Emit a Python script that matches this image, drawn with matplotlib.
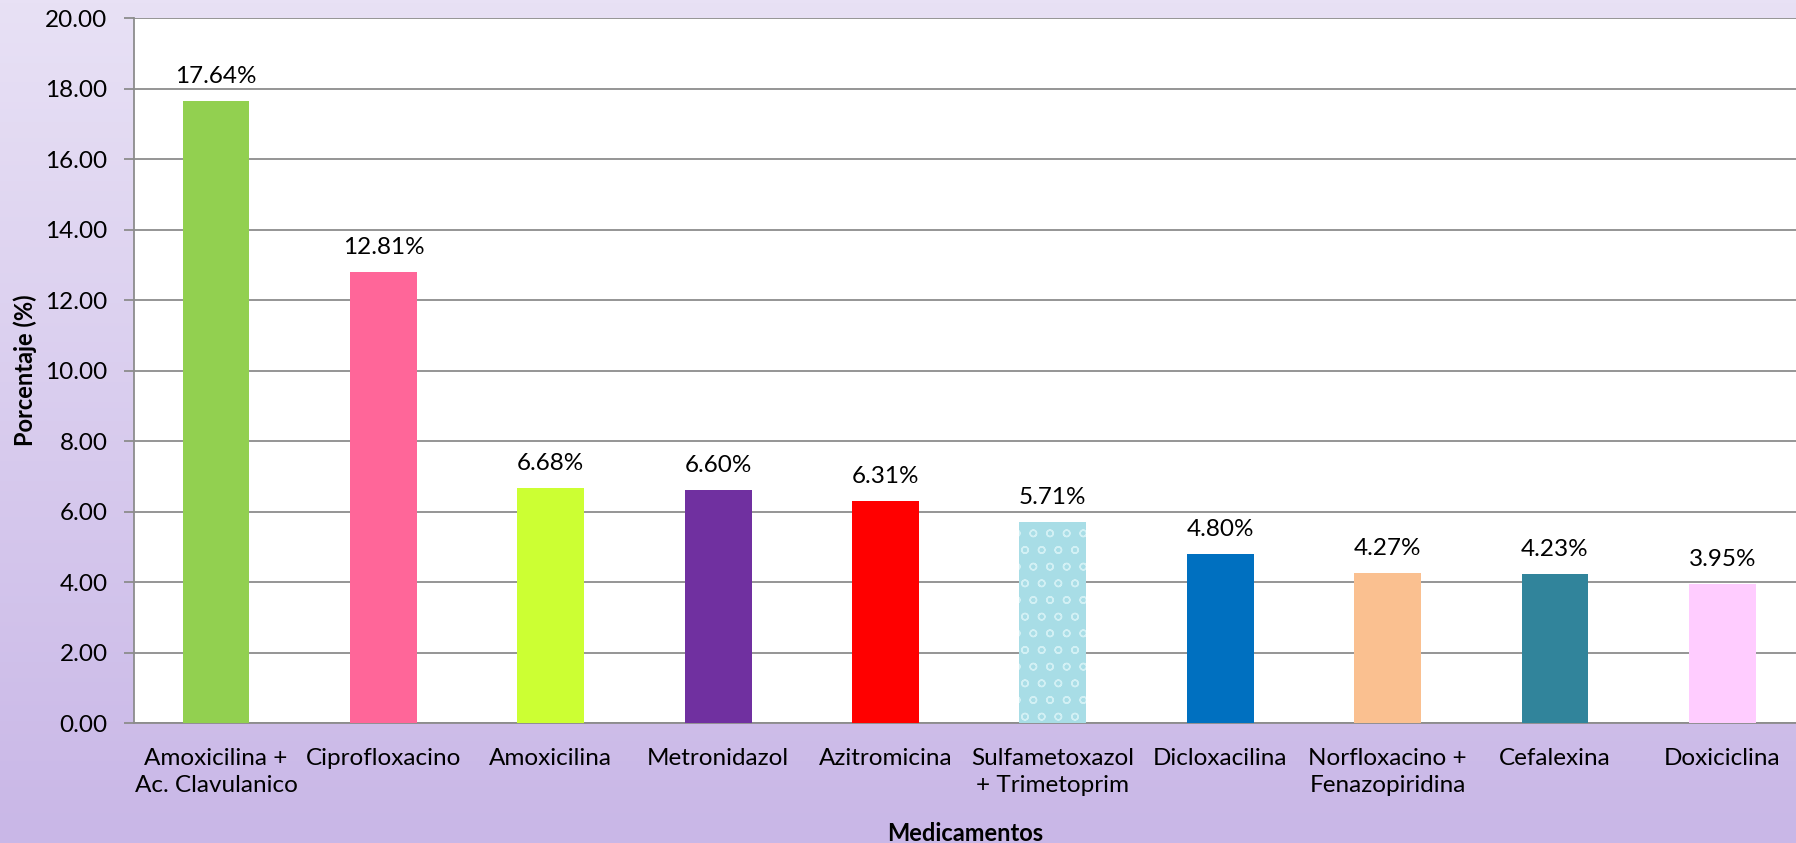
import matplotlib.pyplot as plt
import numpy as np

# data
medicamentos = ['Amoxicilina +\nAc. Clavulanico', 'Ciprofloxacino', 'Amoxicilina',
                'Metronidazol', 'Azitromicina', 'Sulfametoxazol\n+ Trimetoprim',
                'Dicloxacilina', 'Norfloxacino +\nFenazopiridina', 'Cefalexina',
                'Doxiciclina']
porcentaje = [17.64, 12.81, 6.68, 6.60, 6.31, 5.71, 4.80, 4.27, 4.23, 3.95]
colores = ['#92D050', '#FF6699', '#CCFF33', '#7030A0', '#FF0000', '#A8DDE6',
           '#0070C0', '#FAC090', '#31849B', '#FFCCFF']
yticks = np.arange(0, 21, 2)

plt.rcParams['font.family'] = ['Lato', 'DejaVu Sans']
plt.rcParams['hatch.linewidth'] = 1.0

fig = plt.figure(figsize=(17.96, 8.43), dpi=100)

# lavender gradient background
bg = fig.add_axes([0, 0, 1, 1], zorder=-1)
grad = np.linspace(0, 1, 256).reshape(-1, 1)
top = np.array([232, 225, 245]) / 255
bot = np.array([201, 183, 231]) / 255
img = top + (bot - top) * grad[..., None]
bg.imshow(img, aspect='auto', extent=[0, 1, 0, 1])
bg.axis('off')

ax = fig.add_axes([0.0746, 0.1423, 0.9254, 0.836])
ax.set_facecolor('white')
x = np.arange(len(medicamentos))
bars = ax.bar(x, porcentaje, width=0.4, color=colores, zorder=3, linewidth=0)
# textured bar
bars[5].set_hatch('o')
bars[5].set_edgecolor('#D2F0F4')

for xi, v in zip(x, porcentaje):
    ax.annotate(f'{v:.2f}%', (xi, v), xytext=(0, 13), textcoords='offset points',
                ha='center', va='baseline', fontsize=17.5)

ax.set_xlim(-0.49, 9.44)
ax.set_ylim(0, 20)
ax.set_yticks(yticks)
ax.set_yticklabels([f'{t:.2f}' for t in yticks], fontsize=17.5)
ax.set_xticks(x)
ax.set_xticklabels(medicamentos, fontsize=17.5, linespacing=1.35)
ax.tick_params(axis='x', length=0, pad=18)
ax.tick_params(axis='y', length=7, width=1.3, color='#8C8C8C', pad=12)
ax.yaxis.grid(True, color='#8C8C8C', linewidth=1.3, zorder=0)
ax.set_axisbelow(True)
for s in ['top', 'right']:
    ax.spines[s].set_visible(False)
for s in ['left', 'bottom']:
    ax.spines[s].set_color('#8C8C8C')
    ax.spines[s].set_linewidth(1.3)

ax.set_xlabel('Medicamentos', fontsize=17, fontweight='bold', labelpad=19)
ax.set_ylabel('Porcentaje (%)', fontsize=17, fontweight='bold', labelpad=6)

fig.savefig('out.png', dpi=100)
